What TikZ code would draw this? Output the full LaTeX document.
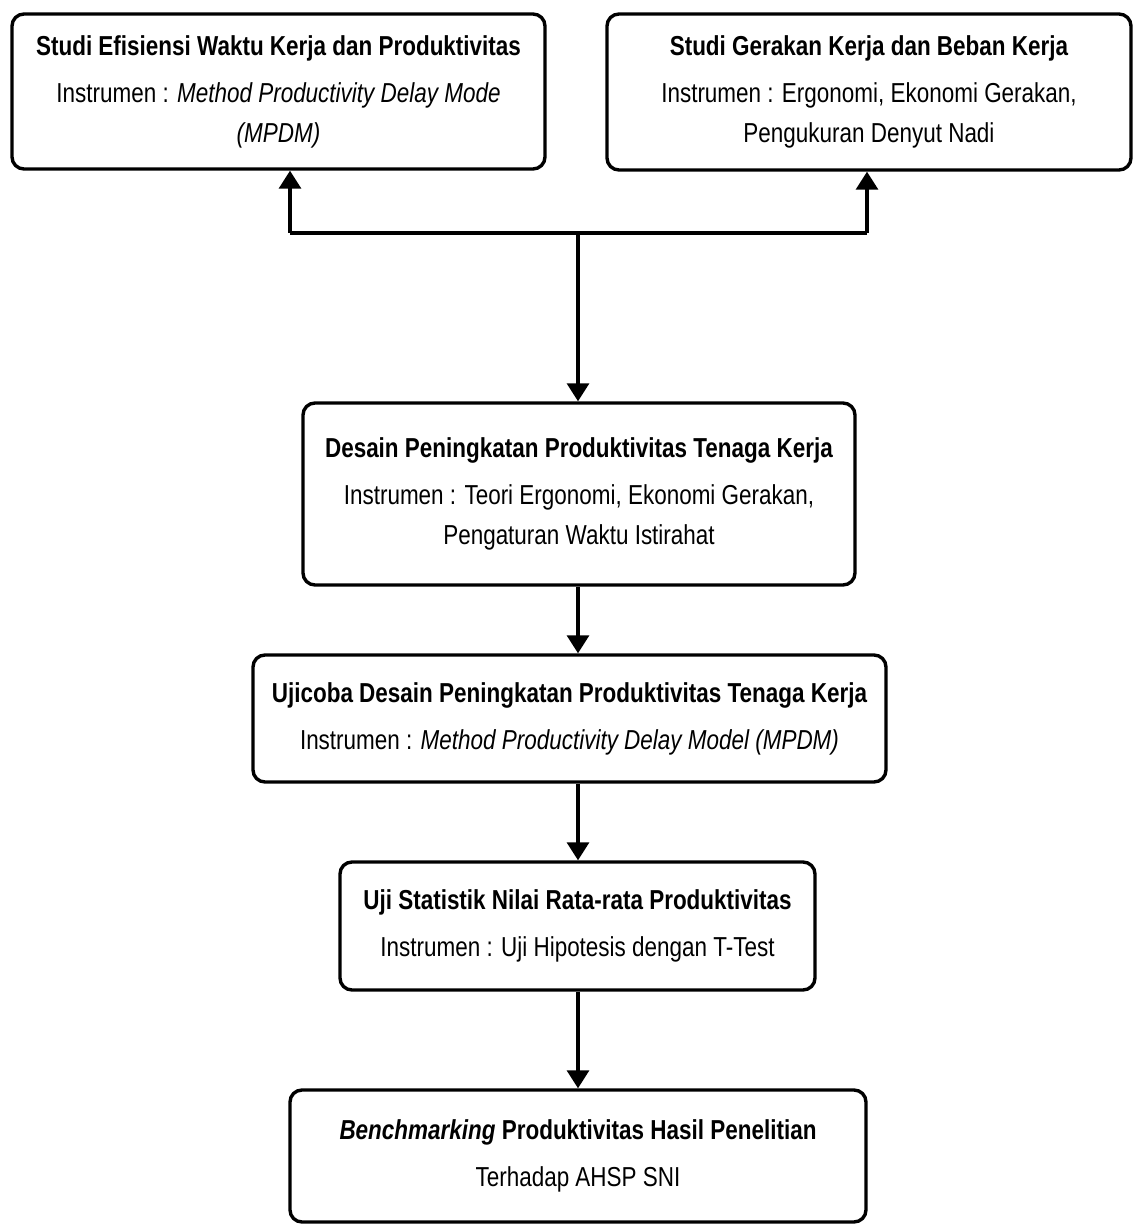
\documentclass[tikz,border=0pt]{standalone}
\usepackage{fontspec}
\setmainfont{Liberation Sans}[FakeStretch=0.82]
\usetikzlibrary{arrows.meta}
\begin{document}
\begin{tikzpicture}[x=0.5pt,y=-0.5pt,
  flowbox/.style={draw=black, line width=1.7pt, rounded corners=6pt, align=center,
    inner sep=2pt, font=\fontsize{13.7pt}{20pt}\selectfont},
  arr/.style={line width=1.6pt, -{Triangle[length=9pt,width=11pt]}},
  conn/.style={line width=1.6pt}]
\useasboundingbox (0,0) rectangle (1133,1225);

\node[flowbox, minimum width=266.5pt, minimum height=77.5pt] (b1) at (278.5,91.5)
  {\textbf{Studi Efisiensi Waktu Kerja dan Produktivitas}\\[3.5pt]
   Instrumen : \textit{Method Productivity Delay Mode}\\
   \textit{(MPDM)}};

\node[flowbox, minimum width=262pt, minimum height=78pt] (b2) at (869,92)
  {\textbf{Studi Gerakan Kerja dan Beban Kerja}\\[3.5pt]
   Instrumen : Ergonomi, Ekonomi Gerakan,\\
   Pengukuran Denyut Nadi};

\node[flowbox, minimum width=276pt, minimum height=91pt] (b3) at (579,494)
  {\textbf{Desain Peningkatan Produktivitas Tenaga Kerja}\\[3.5pt]
   Instrumen : Teori Ergonomi, Ekonomi Gerakan,\\
   Pengaturan Waktu Istirahat};

\node[flowbox, minimum width=316.5pt, minimum height=63.5pt] (b4) at (569.5,718.5)
  {\textbf{Ujicoba Desain Peningkatan Produktivitas Tenaga Kerja}\\[3.5pt]
   Instrumen : \textit{Method Productivity Delay Model (MPDM)}};

\node[flowbox, minimum width=237.5pt, minimum height=64pt] (b5) at (577.5,926)
  {\textbf{Uji Statistik Nilai Rata-rata Produktivitas}\\[3.5pt]
   Instrumen : Uji Hipotesis dengan T-Test};

\node[flowbox, minimum width=288pt, minimum height=66pt] (b6) at (578,1156)
  {\textbf{\textit{Benchmarking} Produktivitas Hasil Penelitian}\\[3.5pt]
   Terhadap AHSP SNI};

\coordinate (j) at (578,233);
\coordinate (jl) at (290,233);
\coordinate (jr) at (867,233);

\draw[conn] (jl) -- (jr);
\draw[arr] (jl) -- (jl |- b1.south);
\draw[arr] (jr) -- (jr |- b2.south);
\draw[arr] (j) -- (j |- b3.north);
\draw[arr] (j |- b3.south) -- (j |- b4.north);
\draw[arr] (j |- b4.south) -- (j |- b5.north);
\draw[arr] (j |- b5.south) -- (j |- b6.north);
\end{tikzpicture}
\end{document}
